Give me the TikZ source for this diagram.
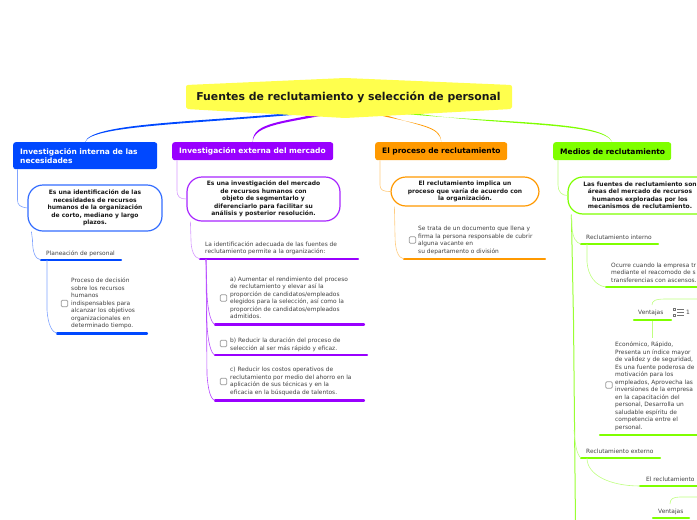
\documentclass[tikz,border=0pt]{standalone}
\usepackage{fontspec}
\setmainfont{DejaVu Sans}
\definecolor{cblue}{HTML}{0048FF}
\definecolor{cpurple}{HTML}{9900FF}
\definecolor{corange}{HTML}{FF9900}
\definecolor{cgreen}{HTML}{7FFF00}
\definecolor{cyellow}{HTML}{FFFF4D}
\tikzset{
 branch/.style={rounded corners=2.5pt,anchor=north west,inner sep=0pt,font=\fontsize{7.5}{9.2}\selectfont\bfseries,align=left},
 subbox/.style={draw=#1,line width=1.2pt,fill=white,rounded corners=15pt,inner sep=0pt,font=\fontsize{6}{7.5}\selectfont\bfseries,align=center,text=black!90},
 leaf/.style={anchor=west,inner sep=0pt,font=\fontsize{5.9}{7.5}\selectfont,align=left,text=black!75},
 chk/.style={draw=black!40,fill=white,line width=.7pt,rounded corners=1.2pt,minimum size=6.5pt,inner sep=0pt},
 link/.style={draw=#1,line width=.6pt},
 ulbar/.style={draw=#1,line width=2.3pt,line cap=round},
}
\begin{document}
\begin{tikzpicture}[x=1pt,y=-1pt]
\useasboundingbox (0,0) rectangle (697,520);
\clip (0,0) rectangle (697,520);
% branches
\node[branch,fill=cblue,text=white,minimum width=144pt,minimum height=27pt,text width=130pt] (b1) at (13,142) {Investigación interna de las\\necesidades};
\node[branch,fill=cpurple,text=white,minimum width=161pt,minimum height=18pt,text width=147pt] (b2) at (172,142) {\mbox{Investigación externa del mercado}};
\node[branch,fill=corange,text=black,minimum width=132pt,minimum height=18pt,text width=118pt] (b3) at (375,142) {\mbox{El proceso de reclutamiento}};
\node[branch,fill=cgreen,text=black,minimum width=118pt,minimum height=18pt,text width=104pt] (b4) at (553,142) {\mbox{Medios de reclutamiento}};
% title anchors
\coordinate (t1a) at (290,113);\coordinate (t1b) at (325,112);
\coordinate (t2a) at (325,112);\coordinate (t2b) at (335,113);
\coordinate (t3a) at (365,112);\coordinate (t3b) at (376,112);
\coordinate (t4a) at (385,112);\coordinate (t4b) at (412,113);
\fill[cblue] (t1a) .. controls (200,122) and (90,123) .. (b1.north) .. controls (91,125) and (200,124) .. (t1b) -- cycle;
\fill[cpurple] (t2a) .. controls (285,122) and (252,122) .. (b2.north) .. controls (254,124) and (288,123) .. (t2b) -- cycle;
\fill[corange] (t3a) .. controls (420,125) and (441,125) .. (b3.north) .. controls (440,126) and (420,127) .. (t3b) -- cycle;
\fill[cgreen] (t4a) .. controls (500,124) and (604,120) .. (b4.north) .. controls (603,122) and (500,126) .. (t4b) -- cycle;
% title
\fill[cyellow,rounded corners=2pt] (186,85) -- (345,78) -- (512,85) -- (512,109) -- (345,118) -- (186,109) -- cycle;
\node[inner sep=0pt,font=\fontsize{10.85}{12}\selectfont\bfseries,text=black!90] (title) at (348.5,97.5) {Fuentes de reclutamiento y selección de personal};
% sub boxes
\node[subbox=cblue!80!white,minimum width=134pt,minimum height=46pt] (s1) at (95,208) {Es una identificación de las\\necesidades de recursos\\humanos de la organización\\de corto, mediano y largo\\plazos.};
\node[subbox=cpurple!85!white,minimum width=153pt,minimum height=44pt] (s2) at (263.5,199) {Es una investigación del mercado\\de recursos humanos con\\objeto de segmentarlo y\\diferenciarlo para facilitar su\\análisis y posterior resolución.};
\node[subbox=corange,minimum width=148pt,minimum height=29pt] (s3) at (465,191.5) {El reclutamiento implica un\\proceso que varía de acuerdo con\\la organización.};
\node[subbox=cgreen,minimum width=144pt,minimum height=37pt] (s4) at (640,195.5) {Las fuentes de reclutamiento son\\áreas del mercado de recursos\\humanos exploradas por los\\mecanismos de reclutamiento.};
\draw[link=cblue!50!white] ([xshift=4.5pt]b1.south west) -- (17.5,200) .. controls (17.5,205) and (20,207) .. (s1.west);
\draw[link=cpurple!40!white] ([xshift=5pt]b2.south west) -- (177,190) .. controls (177,197) and (180,199) .. (s2.west);
\draw[link=corange!50!white] ([xshift=5pt]b3.south west) -- (380,185) .. controls (380,190) and (383,191.5) .. (s3.west);
\draw[link=cgreen!50!white] ([xshift=5pt]b4.south west) -- (558,185) .. controls (558,192) and (562,195.5) .. (s4.west);
% underlines
\coordinate (u1) at (41,260);\coordinate (u1r) at (121,260);
\coordinate (u2) at (57,333.5);\coordinate (u2r) at (147,333.5);
\coordinate (u3) at (200,259);\coordinate (u3r) at (358,259);
\coordinate (u4) at (215,324.5);\coordinate (u4r) at (364,324.5);
\coordinate (u5) at (215,355);\coordinate (u5r) at (367,355);
\coordinate (u6) at (215,400.5);\coordinate (u6r) at (364,400.5);
\coordinate (u7) at (404,259);\coordinate (u7r) at (545,259);
\coordinate (u8) at (581,244);\coordinate (u8r) at (658,244);
\coordinate (u9) at (606,287);\coordinate (u9r) at (700,287);
\coordinate (u10) at (634,320);\coordinate (u10r) at (671,320);
\coordinate (u11) at (600,435);\coordinate (u11r) at (700,435);
\coordinate (u12) at (581,458);\coordinate (u12r) at (660,458);
\coordinate (u13) at (640,486);\coordinate (u13r) at (700,486);
\coordinate (u14) at (653,518);\coordinate (u14r) at (689,518);
\draw[ulbar=cblue] (u1) -- (u1r);
\draw[ulbar=cblue] (u2) -- (u2r);
\draw[ulbar=cpurple] (u3) -- (u3r);
\draw[ulbar=cpurple] (u4) -- (u4r);
\draw[ulbar=cpurple] (u5) -- (u5r);
\draw[ulbar=cpurple] (u6) -- (u6r);
\draw[ulbar=corange] (u7) -- (u7r);
\draw[ulbar=cgreen] (u8) -- (u8r);
\draw[ulbar=cgreen] (u9) -- (u9r);
\draw[ulbar=cgreen] (u10) -- (u10r);
\draw[ulbar=cgreen] (u11) -- (u11r);
\draw[ulbar=cgreen] (u12) -- (u12r);
\draw[ulbar=cgreen] (u13) -- (u13r);
\draw[ulbar=cgreen] (u14) -- (u14r);
% connectors to leaves
\draw[link=cblue!50!white] ([xshift=4pt]s1.south west) -- (32.5,240) .. controls (32.5,252) and (35,259) .. (u1);
\draw[link=cblue!50!white] ([xshift=6pt]u1) -- (47,310) .. controls (48,325) and (52,332) .. (u2);
\draw[link=cpurple!40!white] ([xshift=4pt]s2.south west) -- (191,240) .. controls (191,250) and (194,258) .. (u3);
\draw[link=cpurple!70!white] ([xshift=6pt]u3) -- (207,295) .. controls (208,312) and (211,323) .. (u4);
\draw[link=cpurple!70!white] ([xshift=6pt]u3) -- (207,325) .. controls (208,342) and (211,354) .. (u5);
\draw[link=cpurple!70!white] ([xshift=6pt]u3) -- (207,375) .. controls (208,388) and (210,399) .. (u6);
\draw[link=corange!50!white] ([xshift=4pt]s3.south west) -- (395,235) .. controls (395,250) and (398,258) .. (u7);
\draw[link=cgreen!80!white,line width=1pt] ([xshift=4pt]s4.south west) -- (573.5,320) -- (575.5,525);
\draw[link=cgreen!50!white] ([xshift=4pt]s4.south west) -- (572,228) .. controls (573,238) and (576,243) .. (u8);
\draw[link=cgreen!50!white] ([xshift=6pt]u8) -- (587,262) .. controls (588,276) and (596,286) .. (u9);
\coordinate (v0) at (700,299);
\draw[link=cgreen!50!white] (v0) -- (665,299) .. controls (655,299) and (652,301) .. (652,305);
\draw[link=cgreen!50!white] (652,321) -- (652,338);
\draw[link=cgreen!50!white] (574,430) .. controls (575,445) and (577,455) .. (u12);
\draw[link=cgreen!50!white] ([xshift=6pt]u12) .. controls (587,475) and (610,486) .. (u13);
\coordinate (v1) at (700,497);
\draw[link=cgreen!50!white] (v1) -- (680,497) .. controls (673,497) and (670,499) .. (670,504);
% leaves
\node[leaf] (l1) at (46,254) {Planeación de personal};
\node[chk] (c2) at (64.5,303.5) {};
\node[leaf] (l2) at (71,303.5) {Proceso de decisión\\sobre los recursos\\humanos\\indispensables para\\alcanzar los objetivos\\organizacionales en\\determinado tiempo.};
\node[leaf] (l3) at (205,248) {La identificación adecuada de las fuentes de\\reclutamiento permite a la organización:};
\node[chk] (c4) at (223.5,298) {};
\node[leaf] (l4) at (230,298) {a) Aumentar el rendimiento del proceso\\de reclutamiento y elevar así la\\proporción de candidatos/empleados\\elegidos para la selección, así como la\\proporción de candidatos/empleados\\admitidos.};
\node[chk] (c5) at (223.5,343.5) {};
\node[leaf] (l5) at (230,344.5) {b) Reducir la duración del proceso de\\selección al ser más rápido y eficaz.};
\node[chk] (c6) at (223.5,381.5) {};
\node[leaf] (l6) at (230,381.5) {c) Reducir los costos operativos de\\reclutamiento por medio del ahorro en la\\aplicación de sus técnicas y en la\\eficacia en la búsqueda de talentos.};
\node[chk] (c7) at (412.5,240) {};
\node[leaf] (l7) at (418,240.5) {Se trata de un documento que llena y\\firma la persona responsable de cubrir\\alguna vacante en\\su departamento o división};
\node[leaf] (l8) at (586,237.5) {Reclutamiento interno};
\node[leaf] (l9) at (611,272.5) {Ocurre cuando la empresa tr\\mediante el reacomodo de s\\transferencias con ascensos.};
\node[leaf] (l10) at (638,312.5) {Ventajas};
\draw[black!55,line width=.6pt] (677,309.5) -- (684,309.5) (677,312.5) -- (684,312.5) (677,315.5) -- (684,315.5);
\draw[black!55,line width=.5pt] (673.5,308.5) rectangle (675.5,310.5) (673.5,314.5) rectangle (675.5,316.5);
\node[leaf] (n1) at (686,312.5) {1};
\node[chk] (c11) at (609,385) {};
\node[leaf] (l11) at (615,386) {Económico, Rápido,\\Presenta un índice mayor\\de validez y de seguridad,\\Es una fuente poderosa de\\motivación para los\\empleados, Aprovecha las\\inversiones de la empresa\\en la capacitación del\\personal, Desarrolla un\\saludable espíritu de\\competencia entre el\\personal.};
\node[leaf] (l12) at (586,451) {Reclutamiento externo};
\node[leaf] (l13) at (646,479) {El reclutamiento};
\node[leaf] (l14) at (658,511.5) {Ventajas};
\end{tikzpicture}
\end{document}
